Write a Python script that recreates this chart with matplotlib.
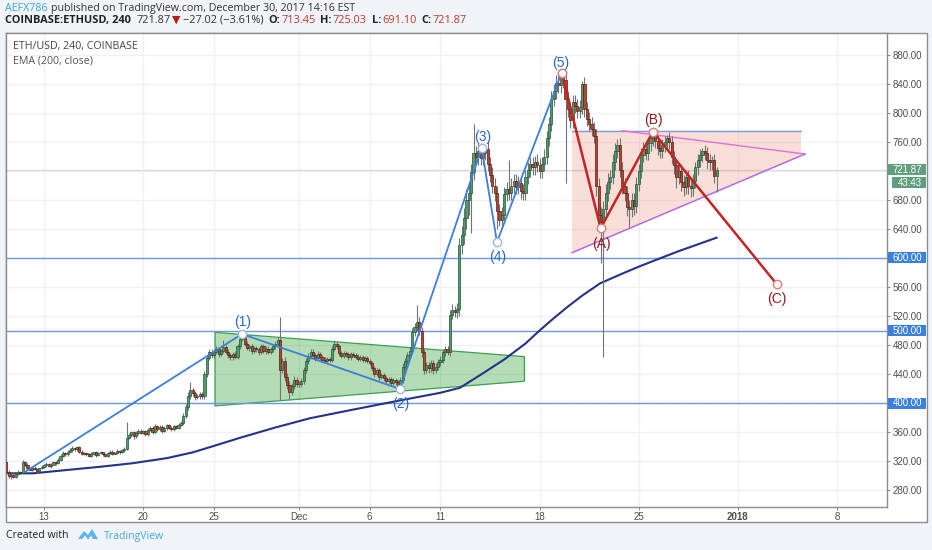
import matplotlib
matplotlib.use('Agg')
import matplotlib.pyplot as plt
from matplotlib.patches import Polygon, Rectangle

W, H = 932, 550

# ---------------- data ----------------
# 4-hour candles, days counted from Nov 13 2017 00:00; first candle Nov 10 08:00
first_open = 318
first_t = -3 + 8 / 24.0
closes = [
    [305, 299, 301, 298],                 # Nov 10
    [302, 305, 304, 318, 315, 310],       # Nov 11
    [308, 311, 309, 306, 310, 312],       # Nov 12
    [314, 316, 313, 315, 318, 317],       # Nov 13
    [322, 327, 331, 329, 333, 335],       # Nov 14
    [338, 336, 339, 333, 330, 331],       # Nov 15
    [329, 327, 330, 332, 328, 331],       # Nov 16
    [332, 329, 327, 331, 333, 330],       # Nov 17
    [331, 334, 332, 335, 337, 352],       # Nov 18
    [356, 360, 354, 358, 362, 359],       # Nov 19
    [361, 357, 363, 366, 360, 368],       # Nov 20
    [364, 367, 362, 365, 369, 366],       # Nov 21
    [364, 368, 366, 370, 372, 382],       # Nov 22
    [394, 410, 418, 414, 408, 410],       # Nov 23
    [412, 409, 440, 462, 470, 466],       # Nov 24
    [470, 474, 468, 472, 477, 471],       # Nov 25
    [466, 463, 468, 464, 478, 488],       # Nov 26
    [491, 482, 476, 479, 472, 476],       # Nov 27
    [474, 470, 478, 472, 475, 471],       # Nov 28
    [474, 478, 482, 487, 446, 458],       # Nov 29
    [436, 425, 415, 424, 432, 426],       # Nov 30
    [426, 430, 445, 458, 465, 470],       # Dec 1
    [466, 462, 468, 463, 460, 458],       # Dec 2
    [461, 459, 475, 481, 478, 469],       # Dec 3
    [465, 469, 467, 463, 468, 466],       # Dec 4
    [464, 461, 463, 459, 462, 458],       # Dec 5
    [455, 448, 440, 445, 436, 438],       # Dec 6
    [434, 430, 433, 428, 432, 429],       # Dec 7
    [424, 432, 450, 458, 466, 472],       # Dec 8
    [498, 505, 512, 500, 470, 446],       # Dec 9
    [452, 448, 455, 446, 450, 456],       # Dec 10
    [460, 470, 474, 471, 522, 528],       # Dec 11
    [525, 530, 618, 632, 655, 680],       # Dec 12
    [690, 718, 745, 740, 748, 738],       # Dec 13
    [745, 750, 730, 715, 700, 690],       # Dec 14
    [665, 652, 660, 688, 695, 690],       # Dec 15
    [700, 706, 698, 703, 692, 690],       # Dec 16
    [712, 722, 730, 725, 733, 728],       # Dec 17
    [720, 730, 740, 765, 785, 820],       # Dec 18
    [830, 842, 838, 852, 845, 820],       # Dec 19
    [805, 790, 815, 810, 803, 808],       # Dec 20
    [840, 805, 792, 785, 778, 768],       # Dec 21
    [700, 660, 650, 668, 690, 705],       # Dec 22
    [712, 732, 748, 756, 722, 700],       # Dec 23
    [690, 670, 668, 680, 672, 702],       # Dec 24
    [720, 742, 750, 745, 758, 765],       # Dec 25
    [770, 762, 752, 748, 756, 760],       # Dec 26
    [766, 760, 740, 728, 712, 720],       # Dec 27
    [705, 698, 712, 700, 696, 706],       # Dec 28
    [725, 735, 742, 748, 745, 735],       # Dec 29
    [732, 735, 713.45, 721.87],           # Dec 30
]
# upper / lower wick lengths beyond the body
wick_hi = [
    [3, 2, 2, 3], [2, 2, 1, 4, 2, 2], [2, 1, 2, 2, 1, 2], [2, 2, 1, 2, 2, 2],
    [2, 2, 3, 2, 2, 3], [3, 2, 2, 2, 2, 1], [2, 2, 2, 1, 2, 2], [2, 1, 2, 2, 2, 2],
    [2, 2, 1, 2, 2, 22], [3, 2, 2, 3, 2, 2], [2, 2, 3, 2, 2, 3], [2, 2, 2, 3, 2, 2],
    [2, 2, 2, 2, 3, 4], [4, 5, 11, 3, 3, 3], [3, 3, 4, 4, 5, 4], [3, 4, 3, 3, 10, 3],
    [3, 3, 3, 4, 4, 4], [5, 3, 3, 3, 3, 3], [3, 3, 3, 3, 3, 3], [3, 3, 3, 4, 32, 4],
    [5, 5, 5, 4, 5, 4], [4, 4, 4, 4, 4, 4], [4, 3, 4, 3, 3, 3], [3, 3, 3, 4, 3, 3],
    [3, 3, 3, 3, 3, 3], [3, 3, 3, 3, 3, 3], [3, 3, 3, 3, 3, 3], [3, 3, 3, 3, 3, 3],
    [3, 4, 5, 4, 4, 5], [6, 6, 23, 6, 5, 5], [5, 5, 5, 5, 5, 5], [5, 5, 5, 5, 6, 8],
    [6, 8, 10, 12, 14, 15], [15, 12, 40, 10, 10, 10], [8, 4, 10, 10, 10, 10],
    [10, 10, 10, 10, 10, 40], [10, 10, 10, 10, 10, 10], [10, 10, 10, 10, 8, 10],
    [10, 10, 10, 10, 10, 10], [10, 10, 10, 4, 3, 10], [10, 10, 10, 10, 10, 10],
    [4, 10, 10, 10, 10, 10], [10, 10, 10, 10, 12, 12], [10, 12, 10, 8, 10, 10],
    [10, 10, 10, 10, 10, 10], [10, 10, 10, 10, 8, 6], [4, 8, 8, 8, 8, 8],
    [4, 8, 8, 8, 8, 8], [10, 10, 10, 10, 10, 10], [8, 8, 8, 4, 8, 8],
    [8, 6, 8, 3.16],
]
wick_lo = [
    [2, 3, 4, 2], [2, 1, 2, 1, 2, 3], [1, 2, 2, 2, 1, 1], [1, 2, 1, 2, 1, 2],
    [1, 2, 1, 2, 2, 1], [2, 2, 2, 2, 2, 2], [2, 1, 2, 2, 2, 1], [1, 2, 2, 1, 2, 2],
    [1, 2, 2, 1, 2, 2], [2, 3, 4, 2, 2, 2], [2, 3, 2, 2, 3, 2], [2, 2, 3, 2, 2, 2],
    [2, 2, 2, 2, 2, 2], [3, 3, 4, 5, 4, 3], [4, 3, 3, 4, 3, 4], [4, 3, 4, 3, 3, 4],
    [4, 4, 3, 3, 3, 3], [3, 4, 3, 4, 5, 3], [3, 4, 3, 3, 4, 3], [3, 3, 4, 3, 42, 5],
    [5, 5, 11, 4, 4, 4], [4, 4, 4, 4, 4, 4], [3, 4, 3, 3, 4, 3], [3, 3, 3, 3, 3, 4],
    [3, 3, 3, 4, 3, 3], [3, 3, 3, 3, 3, 3], [3, 4, 4, 3, 4, 3], [4, 4, 3, 4, 3, 4],
    [5, 3, 4, 4, 4, 4], [5, 5, 6, 6, 6, 6], [5, 6, 5, 6, 5, 5], [5, 5, 5, 5, 6, 6],
    [6, 8, 10, 12, 12, 15], [20, 56, 10, 10, 12, 10], [10, 10, 10, 10, 10, 12],
    [25, 8, 10, 10, 10, 10], [10, 10, 10, 10, 10, 10], [10, 10, 10, 10, 10, 10],
    [10, 10, 10, 10, 10, 10], [10, 10, 10, 10, 10, 117], [10, 10, 10, 10, 10, 10],
    [10, 10, 10, 10, 10, 10], [15, 15, 57, 187, 12, 12], [10, 10, 10, 10, 10, 12],
    [12, 12, 25, 12, 12, 10], [10, 10, 10, 10, 10, 10], [10, 10, 10, 10, 10, 10],
    [10, 10, 10, 12, 15, 10], [12, 12, 10, 12, 12, 10], [10, 10, 10, 10, 10, 12],
    [10, 10, 10, 22.35],
]

# EMA(200, close)
ema_t = [-2.61, -0.78, 1.62, 3.95, 6.29, 8.69, 10.52, 12.2, 13.84, 16.3, 18.79,
         21.6, 24.2, 26.34, 27.97, 29.38, 31.0, 32.5, 34.0, 35.0, 36.0, 37.0,
         38.0, 39.27, 40.9, 42.0, 43.3, 44.9, 46.2, 47.5]
ema_v = [303, 303, 307.6, 312, 317, 324, 332, 342, 352, 366, 379,
         390, 400, 408, 414, 421, 441, 460, 482, 500, 517, 533,
         548, 565, 579, 588, 598, 610, 619, 628]

# Elliott wave points
wave_t = [-1.34, 13.98, 25.14, 30.91, 31.99, 36.56]
wave_p = [305, 495.2, 419.3, 751.3, 622, 855.6]
wave_labels = ['(1)', '(2)', '(3)', '(4)', '(5)']
wave_label_t = [14.05, 25.2, 30.98, 32.02, 36.5]
wave_label_p = [511.5, 398.5, 767.5, 601, 868.5]

abc_t = [36.56, 39.31, 43.0, 51.74]
abc_p = [855.6, 641, 774.2, 564]
abc_labels = ['(A)', '(B)', '(C)']
abc_label_t = [39.34, 43.03, 51.77]
abc_label_p = [619.5, 790.5, 543]

# patterns
pennant_t = [12.08, 33.93, 33.93, 12.08]
pennant_p = [497.5, 463.9, 430, 396]
tri_t = [37.29, 53.46, 53.46, 37.29]
tri_p = [775.6, 775.6, 741.1, 607.3]
tri_upper_t = [40.82, 53.74]
tri_upper_p = [775.6, 743.4]
tri_lower_t = [37.29, 53.74]
tri_lower_p = [607.3, 743.4]

levels = [600, 500, 400]
last_price = 721.87
price_ticks = [280, 320, 360, 440, 480, 520, 560, 640, 680, 760, 800, 840, 880]
time_ticks = [0, 7, 12, 18, 23, 28, 35, 42, 49, 56]
time_labels = ['13', '20', '25', 'Dec', '6', '11', '18', '25', '2018', '8']

# ---------------- figure ----------------
BG = '#f0f3f7'
fig = plt.figure(figsize=(W / 100, H / 100), dpi=100, facecolor=BG)

def fx(px):
    return px / W

def fy(py):
    return 1 - py / H

# white chart panel (behind the axes)
fig.patches.append(Rectangle((fx(5.5), fy(521.7)), fx(926.7 - 5.5), (521.7 - 33) / H,
                             transform=fig.transFigure, facecolor='white',
                             edgecolor='#8c8c8c', linewidth=1.0, zorder=-5))

ax = fig.add_axes([fx(5.5), fy(507), fx(886.7 - 5.5), (507 - 33) / H])
ax.set_zorder(1)
ax.set_facecolor('white')
ax.set_xlim((5.5 - 44) / 14.16, (886.7 - 44) / 14.16)
ax.set_ylim(400 - (507 - 403) / 0.725, 400 + (403 - 33) / 0.725)
for s in ax.spines.values():
    s.set_color('#8c8c8c')
    s.set_linewidth(1.0)

# grid
for t in time_ticks:
    ax.axvline(t, color='#f0f0f0', lw=1, zorder=0)
for p in range(280, 900, 40):
    ax.axhline(p, color='#f0f0f0', lw=1, zorder=0)

# patterns
ax.add_patch(Polygon(list(zip(pennant_t, pennant_p)), closed=True, facecolor='#4caf50',
                     alpha=0.42, edgecolor='none', zorder=1))
ax.add_patch(Polygon(list(zip(pennant_t, pennant_p)), closed=True, facecolor='none',
                     edgecolor='#3c9f50', lw=0.9, zorder=1.1))
ax.add_patch(Polygon(list(zip(tri_t, tri_p)), closed=True, facecolor='#ee8a70',
                     alpha=0.27, edgecolor='none', zorder=1))
ax.plot([tri_t[0], tri_t[1]], [tri_p[0], tri_p[1]], color='#7b9be3', lw=1.0, zorder=1.2)
ax.plot(tri_upper_t, tri_upper_p, color='#e36fd7', lw=1.0, zorder=1.2)
ax.plot(tri_lower_t, tri_lower_p, color='#b06ae6', lw=1.1, zorder=1.2)

# horizontal levels
for lv in levels:
    ax.axhline(lv, color='#6b98de', lw=1.0, zorder=1.5)
ax.axhline(last_price, color='#dcdcdc', lw=1.0, zorder=0.5)

# EMA
ax.plot(ema_t, ema_v, color='#26318a', lw=1.5, zorder=2)

# candles
UP, DN = '#529c6b', '#b8442f'
UPE, DNE = '#225437', '#5b1a13'
prev = first_open
idx = 0
for day_c, day_h, day_l in zip(closes, wick_hi, wick_lo):
    for c, hx, lx in zip(day_c, day_h, day_l):
        t = first_t + idx / 6.0
        o = prev
        hi = max(o, c) + hx
        lo = min(o, c) - lx
        up = c >= o
        ax.vlines(t, lo, hi, color='#737375', lw=0.8, zorder=3)
        body = abs(c - o) if abs(c - o) > 0.6 else 0.6
        ax.add_patch(Rectangle((t - 0.075, min(o, c)), 0.15, body,
                               facecolor=UP if up else DN,
                               edgecolor=UPE if up else DNE, lw=0.5, zorder=4))
        prev = c
        idx += 1

# wave lines
ax.plot(wave_t, wave_p, color='#3d7edb', lw=1.3, zorder=5)
ax.plot(wave_t[1:], wave_p[1:], 'o', ms=6, mfc='white', mec='#9db7e2', mew=1.0, zorder=6)
ax.plot(abc_t, abc_p, color='#c62424', lw=1.8, zorder=5)
ax.plot(abc_t, abc_p, 'o', ms=6, mfc='white', mec='#e07b7b', mew=1.0, zorder=6)
for s, t, p in zip(wave_labels, wave_label_t, wave_label_p):
    ax.text(t, p, s, color='#2c66c7', fontsize=10, ha='center', va='center',
            family='Liberation Sans', zorder=7)
for s, t, p in zip(abc_labels, abc_label_t, abc_label_p):
    ax.text(t, p, s, color='#8e1b1b', fontsize=10, ha='center', va='center',
            family='Liberation Sans', zorder=7)

# axes ticks
ax.yaxis.tick_right()
ax.set_yticks(price_ticks)
ax.set_yticklabels([f'{p:.2f}' for p in price_ticks])
ax.set_xticks(time_ticks)
ax.set_xticklabels(time_labels)
ax.tick_params(axis='y', length=2.2, width=0.8, color='#8c8c8c', pad=2,
               labelsize=7, labelcolor='#4d4d4d')
ax.tick_params(axis='x', length=2.2, width=0.8, color='#8c8c8c', pad=1.5,
               labelsize=7, labelcolor='#4d4d4d')
for lab in ax.get_xticklabels() + ax.get_yticklabels():
    lab.set_family('Liberation Sans')
ax.get_xticklabels()[8].set_fontweight('bold')

# axis boxes
fig.canvas.draw()
renderer = fig.canvas.get_renderer()

def py_of(price):
    return H - ax.transData.transform((0, price))[1]

def box(x0, x1, yc, h, color, text):
    fig.patches.append(Rectangle((fx(x0), fy(yc + h / 2)), fx(x1 - x0), h / H,
                                 transform=fig.transFigure, facecolor=color,
                                 edgecolor='none', zorder=5))
    fig.text(fx((x0 + x1) / 2 + 1), fy(yc), text, color='white', fontsize=7,
             ha='center', va='center', family='Liberation Sans', zorder=6)

for lv in levels:
    box(887.5, 925.5, py_of(lv), 11, '#3b7fdf', f'{lv:.2f}')
yc = py_of(last_price)
box(887.5, 925.5, yc, 11.5, '#5f9f7e', f'{last_price:.2f}')
box(891.5, 925.5, yc + 13, 11.5, '#5f9f7e', '43:43')

# header texts
FAM = ['Open Sans', 'DejaVu Sans']

def put(x, y, s, col, wt='normal', size=7.7):
    return fig.text(fx(x), fy(y), s, color=col, fontsize=size, fontweight=wt,
                    ha='left', va='center', family=FAM)

def seq(x, y, parts, size=7.7):
    for s, col, wt, gap in parts:
        t = put(x, y, s, col, wt, size)
        x += t.get_window_extent(renderer).width + gap

seq(5, 8.5, [('AEFX786', '#3aa3e3', 'normal', 3),
             ('published on TradingView.com, December 30, 2017 14:16 EST', '#333333', 'normal', 0)])
seq(5, 20.5, [('COINBASE:ETHUSD, 240', '#222222', 'bold', 5.5),
              ('721.87', '#333333', 'normal', 1.5),
              ('\u25bc', '#b71c1c', 'normal', 2.5),
              ('\u221227.02 (\u22123.61%)', '#333333', 'normal', 5),
              ('O:', '#222222', 'bold', 0.8), ('713.45', '#c0392b', 'normal', 5),
              ('H:', '#222222', 'bold', 0.8), ('725.03', '#c0392b', 'normal', 5),
              ('L:', '#222222', 'bold', 0.8), ('691.10', '#c0392b', 'normal', 5),
              ('C:', '#222222', 'bold', 0.8), ('721.87', '#c0392b', 'normal', 0)], 7.9)
put(13, 46.5, 'ETH/USD, 240, COINBASE', '#444444')
put(13, 61, 'EMA (200, close)', '#555555')

# footer
put(5.5, 536, 'Created with', '#222222', size=7.6)
logo = [(78, 539), (84, 531), (88, 535), (92, 529), (98, 539), (93, 539), (91, 535.5),
        (88, 539.5), (85, 535.5), (82, 539)]
fig.patches.append(Polygon([(fx(a), fy(b)) for a, b in logo], closed=True,
                           transform=fig.transFigure, facecolor='#5db4ee',
                           edgecolor='none'))
put(104, 536, 'TradingView', '#4aa6e6', size=7.6)

fig.savefig('out.png', dpi=100, facecolor=BG)
